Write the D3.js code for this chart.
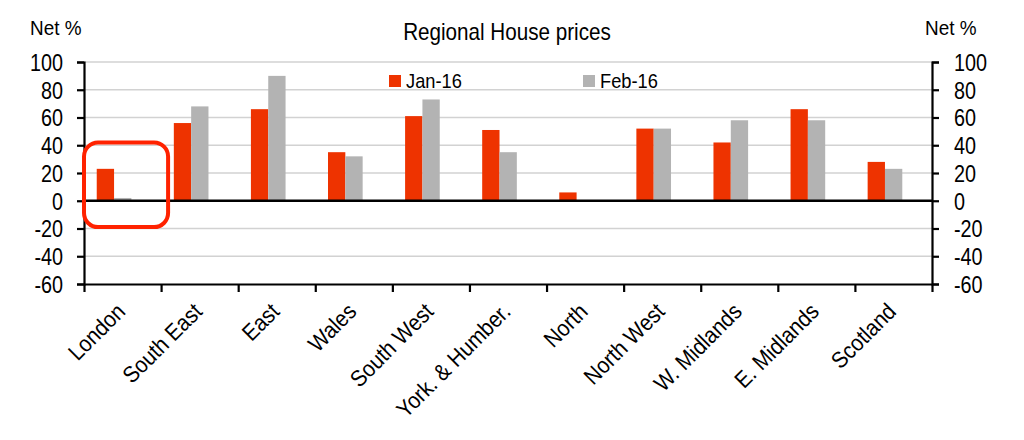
<!DOCTYPE html>
<html lang="en">
<head>
<meta charset="UTF-8">
<title>Regional House prices</title>
<script src="https://d3js.org/d3.v7.min.js"></script>
<style>
  body { margin: 0; background: #fff; }
  text { font-family: "Liberation Sans", Arial, sans-serif; fill: #000; }
</style>
</head>
<body>
<div id="chart"></div>
<script>
// data
const regions = ["London", "South East", "East", "Wales", "South West", "York. & Humber.",
                 "North", "North West", "W. Midlands", "E. Midlands", "Scotland"];
const seriesNames = ["Jan-16", "Feb-16"];
const jan16 = [23, 56, 66, 35, 61, 51, 6, 52, 42, 66, 28];
const feb16 = [2, 68, 90, 32, 73, 35, 0, 52, 58, 58, 23];
const yTicks = [-60, -40, -20, 0, 20, 40, 60, 80, 100];

const width = 1024, height = 440;
const plotLeft = 84, plotRight = 932, plotTop = 62, plotBottom = 284;
const colors = {"Jan-16": "#ee3300", "Feb-16": "#b3b3b3"};

// the original uses a narrow face, so squeeze the text a bit
function narrow(sel, k) {
  sel.each(function() {
    const w = this.getComputedTextLength();
    this.setAttribute("textLength", w * k);
    this.setAttribute("lengthAdjust", "spacingAndGlyphs");
  });
}

const svg = d3.select("#chart").append("svg")
    .attr("width", width)
    .attr("height", height);

const y = d3.scaleLinear().domain([-60, 100]).range([plotBottom, plotTop]);

// one slot per region, ticks sit on the slot edges
const x0 = d3.scaleBand().domain(regions).range([plotLeft, plotRight]).padding(0);
const x1 = d3.scaleBand().domain(seriesNames).range([0, x0.bandwidth()])
    .paddingInner(0).paddingOuter(1.225).align(0.3);
const xEdge = d3.scaleLinear().domain([0, regions.length]).range([plotLeft, plotRight]);

// grid lines
svg.append("g")
  .selectAll("line")
  .data(yTicks.filter(d => d !== 0 && d !== -60))
  .join("line")
    .attr("x1", plotLeft).attr("x2", plotRight)
    .attr("y1", d => y(d)).attr("y2", d => y(d))
    .attr("stroke", "#d2d2d2")
    .attr("stroke-width", 1.6);

// bars
const rows = regions.map((r, i) => ({region: r, values: [jan16[i], feb16[i]]}));
svg.append("g")
  .selectAll("g")
  .data(rows)
  .join("g")
    .attr("transform", d => `translate(${x0(d.region)},0)`)
  .selectAll("rect")
  .data(d => d.values.map((v, k) => ({key: seriesNames[k], value: v})))
  .join("rect")
    .attr("x", d => x1(d.key))
    .attr("width", x1.bandwidth())
    .attr("y", d => y(Math.max(0, d.value)))
    .attr("height", d => Math.abs(y(d.value) - y(0)))
    .attr("fill", d => colors[d.key]);

// zero line
svg.append("line")
    .attr("x1", plotLeft).attr("x2", plotRight)
    .attr("y1", y(0)).attr("y2", y(0))
    .attr("stroke", "#000")
    .attr("stroke-width", 2.5);

// axes
function styleAxis(g) {
  g.select(".domain").attr("stroke", "#000").attr("stroke-width", 2.2);
  g.selectAll(".tick line").attr("stroke", "#000").attr("stroke-width", 2.2);
  g.selectAll(".tick text").style("font-size", "23px").attr("fill", "#000").attr("dy", "0.36em");
}

const yLeft = svg.append("g")
    .attr("transform", `translate(${plotLeft},0)`)
    .call(d3.axisLeft(y).tickValues(yTicks).tickSize(7).tickSizeOuter(7).tickPadding(14)
      .tickFormat(d => String(d)))
    .call(styleAxis);

const yRight = svg.append("g")
    .attr("transform", `translate(${plotRight},0)`)
    .call(d3.axisRight(y).tickValues(yTicks).tickSize(7).tickSizeOuter(7).tickPadding(15)
      .tickFormat(d => String(d)))
    .call(styleAxis);

narrow(yLeft.selectAll(".tick text"), 0.86);
narrow(yRight.selectAll(".tick text"), 0.86);

svg.append("g")
    .attr("transform", `translate(0,${plotBottom})`)
    .call(d3.axisBottom(xEdge).tickValues(d3.range(regions.length + 1)).tickSize(8).tickSizeOuter(0).tickFormat(""))
    .call(styleAxis);

// category labels
svg.append("g")
  .selectAll("text")
  .data(regions)
  .join("text")
    .attr("transform", d => `translate(${x0(d) + x0.bandwidth() / 2 + 4},313) rotate(-45)`)
    .attr("text-anchor", "end")
    .style("font-size", "23px")
    .text(d => d)
    .call(narrow, 0.9);

// titles
svg.append("text")
    .attr("x", 507).attr("y", 40)
    .attr("text-anchor", "middle")
    .style("font-size", "24px")
    .text("Regional House prices")
    .call(narrow, 0.86);

svg.append("text")
    .attr("x", 30).attr("y", 35)
    .style("font-size", "21px")
    .text("Net %")
    .call(narrow, 0.9);

svg.append("text")
    .attr("x", 925).attr("y", 35)
    .style("font-size", "21px")
    .text("Net %")
    .call(narrow, 0.9);

// legend
const legend = svg.append("g")
  .selectAll("g")
  .data(seriesNames)
  .join("g")
    .attr("transform", (d, i) => `translate(${389 + i * 194},75)`);
legend.append("rect")
    .attr("width", 12).attr("height", 12)
    .attr("fill", d => colors[d]);
legend.append("text")
    .attr("x", 17).attr("y", 13)
    .style("font-size", "21px")
    .text(d => d)
    .call(narrow, 0.87);

// highlight around London
const hx = x0("London");
svg.append("rect")
    .attr("x", hx)
    .attr("y", y(42))
    .attr("width", x0.bandwidth() + 7)
    .attr("height", y(-19) - y(42))
    .attr("rx", 14).attr("ry", 14)
    .attr("fill", "none")
    .attr("stroke", "#ff2200")
    .attr("stroke-width", 4);
</script>
</body>
</html>
